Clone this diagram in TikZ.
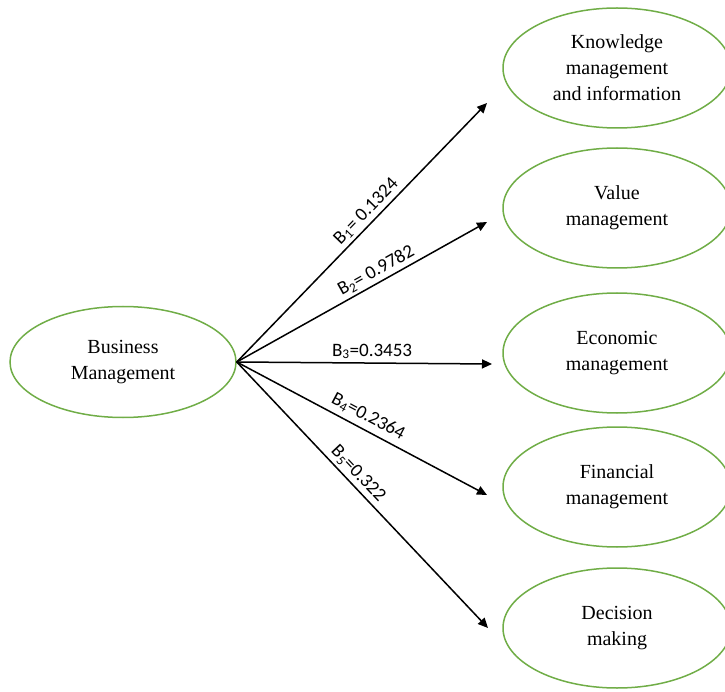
\documentclass[tikz,border=0pt]{standalone}
\usepackage{fontspec}
\setmainfont{Liberation Serif}
\newfontfamily\labelfont{Carlito}
\usetikzlibrary{shapes.geometric,arrows.meta}
\definecolor{ovalgreen}{RGB}{112,173,71}

\begin{document}
\begin{tikzpicture}[x=1pt, y=-1pt, main/.style={draw=ovalgreen, ellipse, line width=1.5pt, minimum width=228pt, minimum height=120pt, inner sep=0pt, align=center, font=\fontsize{20}{26}\selectfont}, n/.style={-{Triangle[length=10pt,width=9pt]}, line width=1.5pt}, coef/.style={sloped, above, inner sep=3pt, font=\labelfont\fontsize{19}{21}\selectfont}]
        \useasboundingbox (0,0) rectangle (725,692);
        \clip (0,0) rectangle (725,692);
        % nodes
        \node[main, minimum width=226pt, minimum height=111pt] (BM) at (123,362) {Business\\Management};
        \node[main] (KM) at (617,68) {Knowledge\\management\\and information};
        \node[main] (VM) at (617,208) {Value\\management};
        \node[main] (EM) at (617,353) {Economic\\management};
        \node[main] (FM) at (617,487) {Financial\\management};
        \node[main] (DM) at (617,628) {Decision\\making};
        % arrow ends
        \coordinate (e1) at (487,103);
        \coordinate (e2) at (487,222);
        \coordinate (e3) at (492,364);
        \coordinate (e4) at (487,495);
        \coordinate (e5) at (488,628);
        % edges
        \draw [n] (BM.east) -- node[coef, pos=0.55] (b1) {B\textsubscript{1}= 0.1324} (e1);
        \draw [n] (BM.east) -- node[coef, pos=0.58] (b2) {B\textsubscript{2}= 0.9782} (e2);
        \draw [n] (BM.east) -- node[coef, pos=0.53] (b3) {B\textsubscript{3}=0.3453} (e3);
        \draw [n] (BM.east) -- node[coef, pos=0.50, inner sep=5pt] (b4) {B\textsubscript{4}=0.2364} (e4);
        \draw [n] (BM.east) -- node[coef, pos=0.45] (b5) {B\textsubscript{5}=0.322} (e5);
    \end{tikzpicture}
\end{document}
